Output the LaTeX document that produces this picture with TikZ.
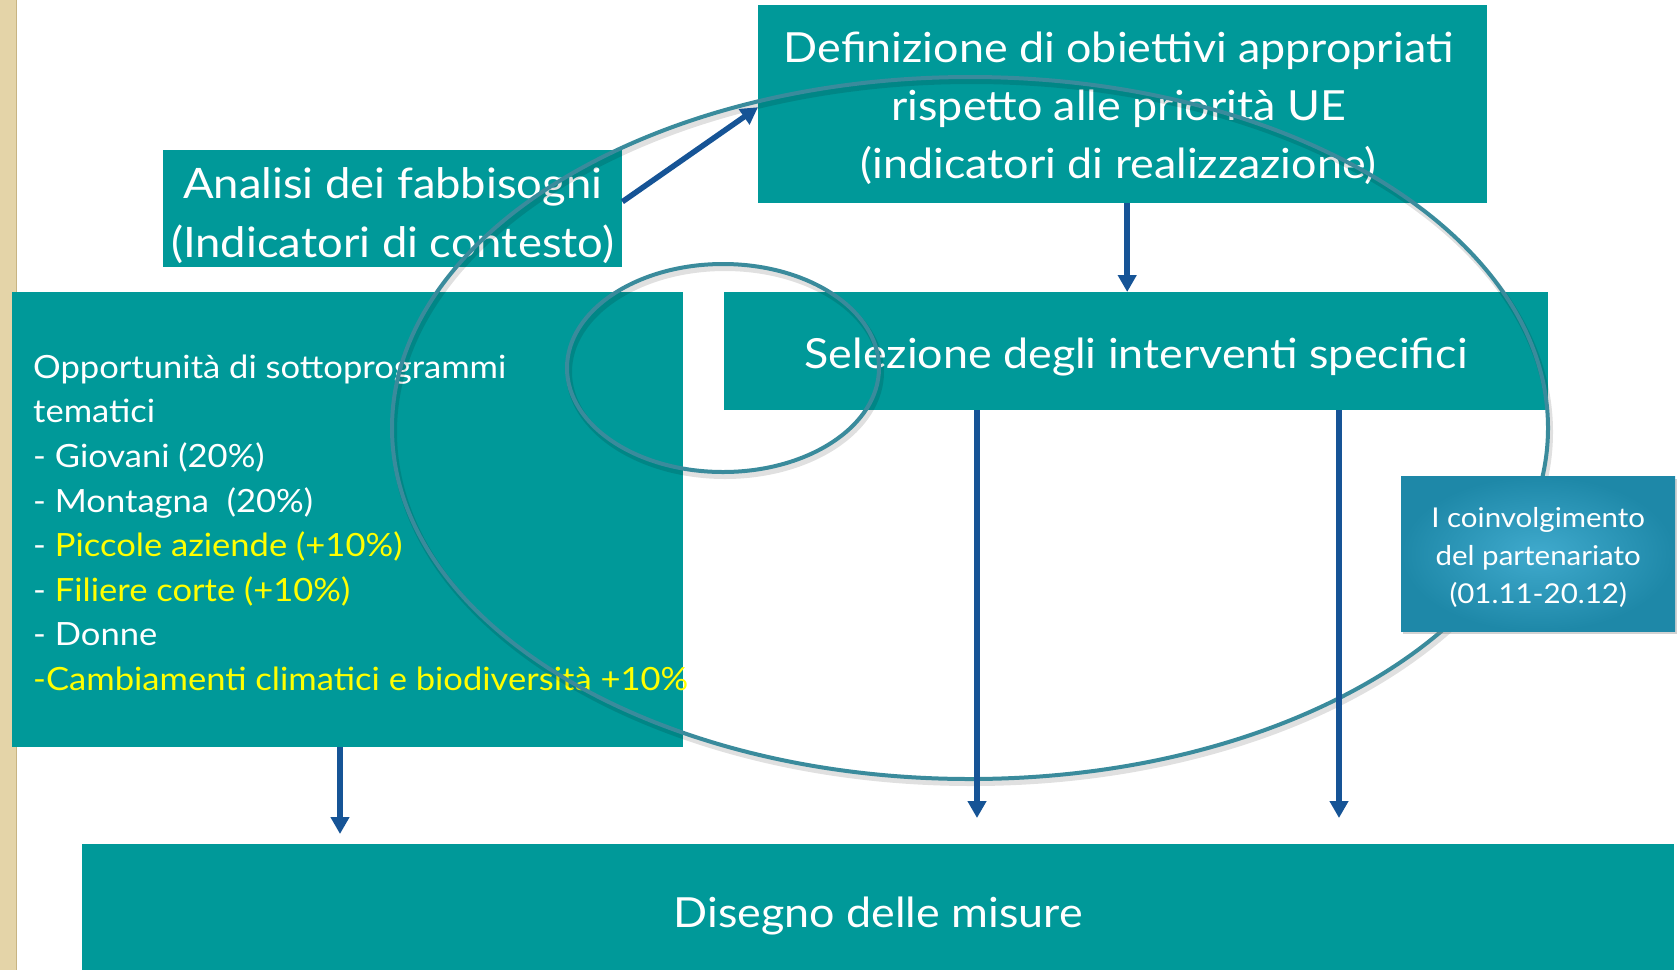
\documentclass[tikz,border=0pt]{standalone}
\usepackage{fontspec}
\setmainfont{Lato}[FakeStretch=1.08]
\usetikzlibrary{arrows.meta,calc,shadows}
\definecolor{tealbox}{RGB}{0,153,153}
\definecolor{arrowblue}{RGB}{22,84,150}
\definecolor{ellcol}{RGB}{58,139,156}
\definecolor{yel}{RGB}{255,255,0}
\definecolor{beige}{RGB}{228,212,168}
\definecolor{beigedark}{RGB}{200,180,130}
\begin{document}
\begin{tikzpicture}[x=1pt,y=-1pt,
  box/.style={fill=tealbox,draw=none,inner sep=0pt,anchor=north west},
  lbl/.style={text=white,inner sep=0pt,align=center},
  bigfont/.style={font=\fontsize{41.5}{58}\selectfont},
  arr/.style={draw=arrowblue,line width=5.5pt,-{Triangle[width=18pt,length=17pt]}},
  ell/.style={draw=ellcol,line width=4pt},
  ellshadow/.style={draw=black,opacity=0.12,line width=6pt}]
\useasboundingbox (0,0) rectangle (1677,970);
\fill[white] (0,0) rectangle (1677,970);
\fill[beige] (0,0) rectangle (17,970);
\draw[beigedark,line width=1.5pt] (16.5,0) -- (16.5,970);

% main boxes
\node[box,minimum width=729pt,minimum height=198pt] (def) at (758,5) {};
\node[lbl,bigfont] (deftext) at ($(def.center)+(-4,4)$)
  {Definizione di obiettivi appropriati\\rispetto alle priorità UE\\(indicatori di realizzazione)};
\node[box,minimum width=459pt,minimum height=117pt] (ana) at (163,150) {};
\node[lbl,bigfont,font=\fontsize{42}{59}\selectfont] (anatext) at ($(ana.center)+(0,7)$)
  {Analisi dei fabbisogni\\(Indicatori di contesto)};
\node[box,minimum width=671pt,minimum height=455pt] (opp) at (12,292) {};
\node[lbl,anchor=west,align=left,font=\fontsize{32}{44.6}\selectfont] (opptext) at ($(opp.west)+(21,3)$)
  {Opportunità di sottoprogrammi\\tematici\\- Giovani (20\%)\\- Montagna\ \ (20\%)\\- {\color{yel}Piccole aziende (+10\%)}\\- {\color{yel}Filiere corte (+10\%)}\\- Donne\\{\color{yel}-Cambiamenti climatici e biodiversità +10\%}};
\node[box,minimum width=824pt,minimum height=118pt] (sel) at (724,292) {};
\node[lbl,bigfont] (seltext) at ($(sel.center)+(0,6)$) {Selezione degli interventi specifici};
\node[box,minimum width=1592pt,minimum height=126pt] (dis) at (82,844) {};
\node[lbl,bigfont] (distext) at ($(dis.center)+(0,9)$) {Disegno delle misure};

% ellipses
\draw[ellshadow] (972,432) ellipse [x radius=578pt, y radius=351pt];
\draw[ell] (970,428) ellipse [x radius=578pt, y radius=351pt];
\draw[ellshadow] (725,372) ellipse [x radius=156pt, y radius=104pt];
\draw[ell] (723,368) ellipse [x radius=156pt, y radius=104pt];

% small box
\node[box,minimum width=274pt,minimum height=155pt,inner color={rgb,255:red,64;green,170;blue,205},outer color={rgb,255:red,30;green,136;blue,168},
  drop shadow={shadow xshift=2pt,shadow yshift=-3pt,opacity=0.35}] (par) at (1401,476) {};
\node[lbl,font=\fontsize{27.3}{38}\selectfont] (partext) at ($(par.center)+(0,4)$)
  {I coinvolgimento\\del partenariato\\(01.11-20.12)};

% arrows
\coordinate (t1) at (340,834);
\coordinate (t2) at (977,818);
\coordinate (t3) at (1339,818);
\draw[arr] ($(ana.east)+(0,-7)$) -- ($(def.west)+(0,3)$);
\draw[arr] ([xshift=4.5pt]def.south) -- ([xshift=4.5pt]def.south |- sel.north);
\draw[arr] (opp.south -| t1) -- (t1);
\draw[arr] (sel.south -| t2) -- (t2);
\draw[arr] (sel.south -| t3) -- (t3);
\end{tikzpicture}
\end{document}
